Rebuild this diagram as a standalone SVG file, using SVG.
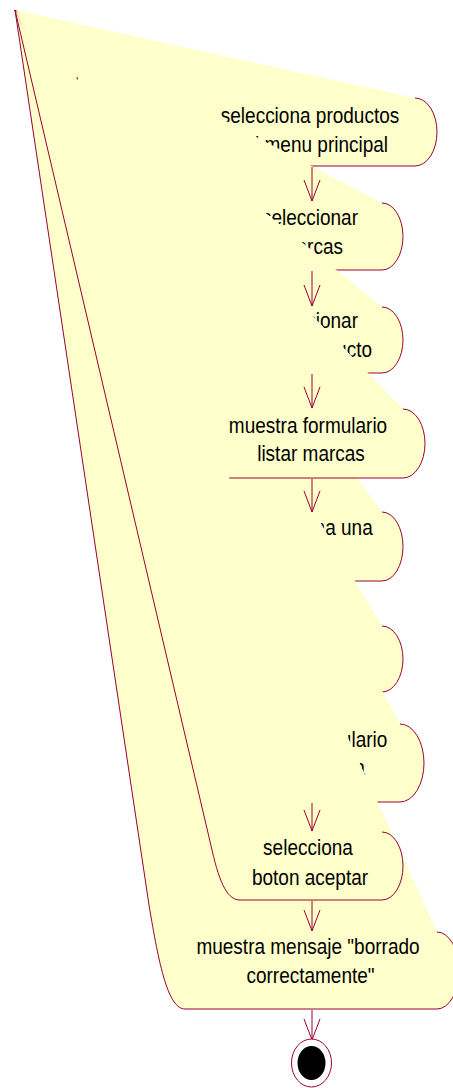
<svg xmlns="http://www.w3.org/2000/svg" width="453" height="1088" viewBox="0 0 453 1088">
<style>
.f{fill:#FFFFCC;stroke:none}
.s{fill:none;stroke:#990033;stroke-width:1}
.t{font-family:"Liberation Sans",Arial,sans-serif;font-size:19px;fill:#000;text-anchor:middle}
.e{text-anchor:end}
.c{fill:none;stroke:#990033;stroke-width:1}
</style>
<defs>
<marker id="ah" viewBox="-23 -10 25 20" refX="0" refY="0" markerWidth="25" markerHeight="20" markerUnits="userSpaceOnUse" orient="auto">
<path d="M-21,-8 L0,0 L-21,8" fill="none" stroke="#990033" stroke-width="1"/>
</marker>
</defs>
<rect width="453" height="1088" fill="#fff"/>
<g id="n1">
<path class="f" d="M15,10 L415,98 A22,34 0 0 1 437,132 A22,34 0 0 1 415,166 L205,166 A22,34 0 0 1 183,132 Z"/>
<path class="s" d="M415,98 A22,34 0 0 1 437,132 A22,34 0 0 1 415,166 L205,166 A22,34 0 0 1 183,132 L15,10"/>
<text class="t" transform="translate(310 123) scale(1 1.15)">selecciona productos</text>
<text class="t" transform="translate(311 152) scale(1 1.15)">del menu principal</text>
</g>
<g id="n2">
<path class="f" d="M15,10 L382,203 A21,33.5 0 0 1 403,236.5 A21,33.5 0 0 1 382,270 L240,270 A21,33.5 0 0 1 219,236.5 Z"/>
<path class="s" d="M382,203 A21,33.5 0 0 1 403,236.5 A21,33.5 0 0 1 382,270 L240,270 A21,33.5 0 0 1 219,236.5 L15,10"/>
<text class="t e" transform="translate(358 225) scale(1 1.15)">seleccionar</text>
<text class="t e" transform="translate(343 254) scale(1 1.15)">marcas</text>
</g>
<g id="n3">
<path class="f" d="M15,10 L382,307 A21,33 0 0 1 403,340 A21,33 0 0 1 382,373 L240,373 A21,33 0 0 1 219,340 Z"/>
<path class="s" d="M382,307 A21,33 0 0 1 403,340 A21,33 0 0 1 382,373 L240,373 A21,33 0 0 1 219,340 L15,10"/>
<text class="t e" transform="translate(358 328) scale(1 1.15)">seleccionar</text>
<text class="t e" transform="translate(372 357) scale(1 1.15)">producto</text>
</g>
<g id="n5">
<path class="f" d="M15,10 L382,512 A21,34.5 0 0 1 403,546.5 A21,34.5 0 0 1 382,581 L240,581 A21,34.5 0 0 1 219,546.5 Z"/>
<path class="s" d="M382,512 A21,34.5 0 0 1 403,546.5 A21,34.5 0 0 1 382,581 L240,581 A21,34.5 0 0 1 219,546.5 L15,10"/>
<text class="t e" transform="translate(372.7 535) scale(1 1.15)">selecciona una</text>
</g>
<g id="n6">
<path class="f" d="M15,10 L382,626 A21,33 0 0 1 403,659 A21,33 0 0 1 382,692 L240,692 A21,33 0 0 1 219,659 Z"/>
<path class="s" d="M382,626 A21,33 0 0 1 403,659 A21,33 0 0 1 382,692 L240,692 A21,33 0 0 1 219,659 L15,10"/>
</g>
<g id="n7">
<path class="f" d="M15,10 L400,724 A24,39 0 0 1 424,763 A24,39 0 0 1 400,802 L222,802 A24,39 0 0 1 198,763 Z"/>
<path class="s" d="M400,724 A24,39 0 0 1 424,763 A24,39 0 0 1 400,802 L222,802 A24,39 0 0 1 198,763 L15,10"/>
<text class="t e" transform="translate(387.3 746.5) scale(1 1.15)">formulario</text>
<text class="t e" transform="translate(365 775) scale(1 1.15)">marca</text>
</g>
<g id="n4">
<path class="f" d="M15,10 L403,409 A22,34.5 0 0 1 425,443.5 A22,34.5 0 0 1 403,478 L219,478 A22,34.5 0 0 1 197,443.5 Z"/>
<path class="s" d="M403,409 A22,34.5 0 0 1 425,443.5 A22,34.5 0 0 1 403,478 L219,478 A22,34.5 0 0 1 197,443.5 L15,10"/>
<text class="t" transform="translate(308 432.5) scale(1 1.15)">muestra formulario</text>
<text class="t" transform="translate(311 461) scale(1 1.15)">listar marcas</text>
</g>
<g id="n9">
<path class="f" d="M15,10 L437,932 A22,38.5 0 0 1 459,970.5 A22,38.5 0 0 1 437,1009 L185,1009 C168,1009 159,965 149,905 Z"/>
<path class="s" d="M437,932 A22,38.5 0 0 1 459,970.5 A22,38.5 0 0 1 437,1009 L185,1009 C168,1009 159,965 149,905 L15,10"/>
<text class="t" transform="translate(308 954) scale(1 1.15)">muestra mensaje "borrado</text>
<text class="t" transform="translate(310.5 983) scale(1 1.15)">correctamente"</text>
</g>
<g id="n8">
<path class="f" d="M15,10 L382,832 A21,34 0 0 1 403,866 A21,34 0 0 1 382,900 L240,900 C228,900 220,885 212,850 Z"/>
<path class="s" d="M382,832 A21,34 0 0 1 403,866 A21,34 0 0 1 382,900 L240,900 C228,900 220,885 212,850 L15,10"/>
<text class="t" transform="translate(308 855) scale(1 1.15)">selecciona</text>
<text class="t" transform="translate(310 885) scale(1 1.15)">boton aceptar</text>
</g>
<path d="M77,77 L77.5,79.5" stroke="#990033" stroke-width="1"/>
<g id="connectors">
<path class="c" d="M312,167 L312,201" marker-end="url(#ah)"/>
<path class="c" d="M312,271 L312,306" marker-end="url(#ah)"/>
<path class="c" d="M312,374 L312,408" marker-end="url(#ah)"/>
<path class="c" d="M312,479 L312,512" marker-end="url(#ah)"/>
<path class="c" d="M312,803 L312,831" marker-end="url(#ah)"/>
<path class="c" d="M312,901 L312,931" marker-end="url(#ah)"/>
<path class="c" d="M312,1010 L312,1040" marker-end="url(#ah)"/>
</g>
<g id="final">
<ellipse cx="311.5" cy="1063" rx="20" ry="24" fill="#fff" stroke="#990033" stroke-width="1"/>
<ellipse cx="311.5" cy="1063" rx="14" ry="17" fill="#000"/>
</g>
</svg>
